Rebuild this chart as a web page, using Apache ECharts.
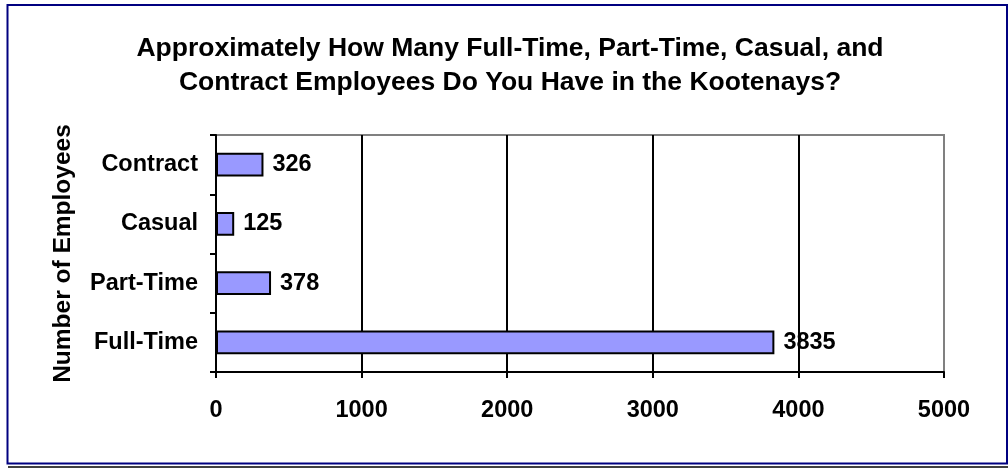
<!DOCTYPE html>
<html>
<head>
<meta charset="utf-8">
<script src="https://cdn.jsdelivr.net/npm/echarts@6/dist/echarts.min.js"></script>
<style>
  html, body { margin: 0; padding: 0; background: #fff; }
  #chart { width: 1008px; height: 468px; }
</style>
</head>
<body>
<div id="chart"></div>
<script type="text/javascript">
// categories from bottom to top
var categories = ['Full-Time', 'Part-Time', 'Casual', 'Contract'];
var employees = [3835, 378, 125, 326];
var titleText = 'Approximately How Many Full-Time, Part-Time, Casual, and\nContract Employees Do You Have in the Kootenays?';
var axisName = 'Number of Employees';

var font = 'Arial, "Liberation Sans", sans-serif';

var myChart = echarts.init(document.getElementById('chart'));
var option = {
    backgroundColor: '#fff',
    animation: false,
    grid: {
        left: 216,
        right: 64,
        top: 135,
        bottom: 96,
        show: true,
        borderColor: '#808080',
        borderWidth: 2,
        backgroundColor: 'transparent'
    },
    xAxis: {
        type: 'value',
        min: 0,
        max: 5000,
        interval: 1000,
        axisLine: { show: true, lineStyle: { color: '#000', width: 2 } },
        axisTick: { show: true, length: 6, lineStyle: { color: '#000', width: 2 } },
        axisLabel: {
            margin: 27,
            formatter: function (v) { return String(v); },
            fontFamily: font,
            fontWeight: 'bold',
            fontSize: 23.5,
            color: '#000'
        },
        splitLine: {
            show: true,
            showMinLine: false,
            showMaxLine: false,
            lineStyle: { color: '#000', width: 2 }
        }
    },
    yAxis: {
        type: 'category',
        data: categories,
        name: axisName,
        nameLocation: 'middle',
        nameGap: 140,
        nameTextStyle: {
            fontFamily: font,
            fontWeight: 'bold',
            fontSize: 24.5,
            color: '#000'
        },
        axisLine: { show: true, lineStyle: { color: '#000', width: 2 } },
        axisTick: { show: true, length: 6, lineStyle: { color: '#000', width: 2 } },
        axisLabel: {
            margin: 18,
            fontFamily: font,
            fontWeight: 'bold',
            fontSize: 23.5,
            color: '#000'
        },
        splitLine: { show: false }
    },
    series: [{
        type: 'bar',
        data: employees,
        barCategoryGap: '60%',
        itemStyle: {
            color: '#9999FF',
            borderColor: '#000',
            borderWidth: 2
        },
        label: {
            show: true,
            position: 'right',
            distance: 9,
            fontFamily: font,
            fontWeight: 'bold',
            fontSize: 23.5,
            color: '#000'
        }
    }],
    graphic: [
        // 标题（两行居中）
        {
            type: 'text',
            x: 510,
            y: 32,
            silent: true,
            style: {
                text: titleText,
                textAlign: 'center',
                textVerticalAlign: 'top',
                fontFamily: font,
                fontWeight: 'bold',
                fontSize: 26.5,
                lineHeight: 33.5,
                fill: '#000'
            }
        },
        {
            type: 'rect',
            shape: { x: 7.5, y: 5, width: 999.5, height: 458.5 },
            style: { fill: 'none', stroke: '#000080', lineWidth: 2 },
            silent: true
        },
        {
            type: 'line',
            shape: { x1: 8, y1: 467, x2: 1008, y2: 467 },
            style: { stroke: '#000', lineWidth: 1.5 },
            silent: true
        }
    ]
};
myChart.setOption(option);
</script>
</body>
</html>
